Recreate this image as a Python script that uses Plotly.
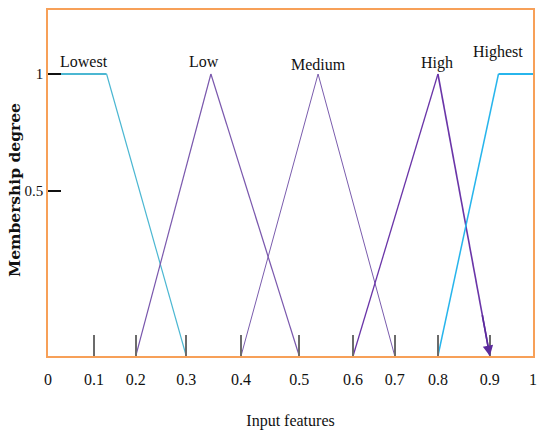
import numpy as np
import plotly.graph_objects as go

# Feature tick values and where the reference draws them (non-uniform axis)
x_tick_values = [0, 0.1, 0.2, 0.3, 0.4, 0.5, 0.6, 0.7, 0.8, 0.9, 1.0]
x_tick_labels = ["0", "0.1", "0.2", "0.3", "0.4", "0.5", "0.6", "0.7", "0.8", "0.9", "1"]
x_tick_positions = [0.0, 0.095, 0.181, 0.285, 0.398, 0.518, 0.629, 0.715, 0.804, 0.911, 1.0]

y_tick_values = [0.5, 1.0]
y_tick_labels = ["0.5", "1"]
y_tick_positions = [0.585, 1.0]

# Membership functions (feature value, membership degree)
lowest_x = [0.0, 0.13, 0.3]
lowest_y = [1, 1, 0]
low_x = [0.2, 0.345, 0.5]
low_y = [0, 1, 0]
medium_x = [0.4, 0.535, 0.7]
medium_y = [0, 1, 0]
high_x = [0.6, 0.8, 0.9]
high_y = [0, 1, 0]
highest_x = [0.8, 0.92, 1.0]
highest_y = [0, 1, 1]

names = ["Lowest", "Low", "Medium", "High", "Highest"]


def xpos(v):
    return list(np.interp(v, x_tick_values, x_tick_positions))


serif = "Liberation Serif, Times New Roman, serif"
fig = go.Figure()

series = [
    (lowest_x, lowest_y, "#4bb7d2", [2.2, 1.2]),
    (low_x, low_y, "#7a58ad", [1.2, 1.2]),
    (medium_x, medium_y, "#7a5cad", [1.0, 1.0]),
    (high_x, high_y, "#6a35a8", [1.3, 1.6]),
    (highest_x, highest_y, "#27b5ec", [1.5, 2.2]),
]
for (xs, ys, col, widths), nm in zip(series, names):
    px = xpos(xs)
    for i in range(len(xs) - 1):
        fig.add_trace(go.Scatter(
            x=px[i:i + 2], y=ys[i:i + 2], mode="lines",
            line=dict(color=col, width=widths[i]),
            showlegend=False, hoverinfo="skip", name=nm, cliponaxis=False,
        ))

# arrow head at the end of "High"
hx = xpos(high_x)
fig.add_annotation(
    x=hx[2], y=high_y[2], ax=hx[2] - (hx[2] - hx[1]) * 0.15, ay=high_y[2] + 0.15,
    xref="x", yref="y", axref="x", ayref="y",
    text="", showarrow=True, arrowhead=2, arrowsize=1.3, arrowwidth=1.6,
    arrowcolor="#5b2a9c", standoff=0,
)

# labels
label_pos = [(0.074, 1.043), (0.322, 1.043), (0.557, 1.032), (0.802, 1.039), (0.928, 1.078)]
for nm, (lx, ly) in zip(names, label_pos):
    fig.add_annotation(x=lx, y=ly, xref="x", yref="y", text=nm, showarrow=False,
                       font=dict(family=serif, size=16, color="#111"))

# y-axis title
fig.add_annotation(x=-0.068, y=0.48, xref="paper", yref="paper", text="<b>Membership degree</b>",
                   textangle=-90, showarrow=False, xanchor="center", yanchor="middle",
                   font=dict(family="DejaVu Serif, serif", size=15.5, color="#111"))

orange = "#f7a058"
fig.update_xaxes(
    range=[0, 1], tickmode="array", tickvals=x_tick_positions, ticktext=x_tick_labels,
    ticks="inside", ticklen=21, tickwidth=1.5, tickcolor="#6b6b6b",
    showline=True, linecolor=orange, linewidth=1.5, mirror=True,
    showgrid=False, zeroline=False, ticklabelstandoff=8, automargin=False,
    ticklabeloverflow="allow",
    tickfont=dict(family=serif, size=16, color="#111"),
    title=dict(text="Input features", font=dict(family=serif, size=16, color="#111"), standoff=28),
)
fig.update_yaxes(
    range=[0, 1.227], tickmode="array", tickvals=y_tick_positions, ticktext=y_tick_labels,
    ticks="inside", ticklen=13, tickwidth=1.5, tickcolor="#111",
    showline=True, linecolor=orange, linewidth=1.5, mirror=True,
    showgrid=False, zeroline=False, ticklabelstandoff=0, automargin=False,
    ticklabeloverflow="allow",
    tickfont=dict(family=serif, size=15, color="#111"),
)
fig.update_layout(
    width=537, height=432, margin=dict(l=48, r=4, t=10, b=76, autoexpand=False),
    paper_bgcolor="white", plot_bgcolor="white", showlegend=False,
)
fig.write_html("out.html", config={"displayModeBar": False},
               post_script="document.body.style.margin='0';document.body.style.overflow='hidden';")
